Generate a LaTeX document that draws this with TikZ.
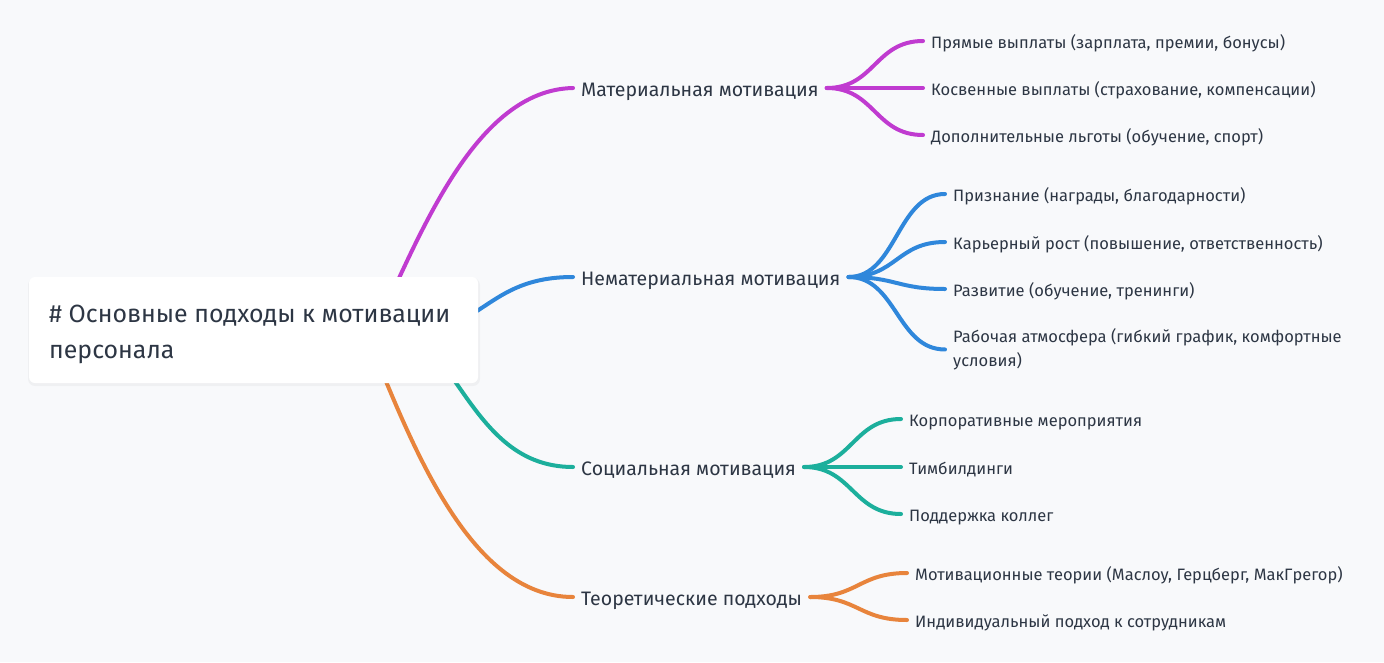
\documentclass[tikz,border=0pt]{standalone}
\usepackage{fontspec}
\setmainfont{Fira Sans}
\definecolor{bg}{HTML}{F8F9FB}
\definecolor{txt}{HTML}{2D3644}
\definecolor{cpur}{HTML}{C03BD0}
\definecolor{cblu}{HTML}{2F87DB}
\definecolor{ctea}{HTML}{1CAF9C}
\definecolor{cora}{HTML}{E8843C}
\tikzset{
  lnk/.style={line width=4pt, line cap=round},
  lone/.style={inner xsep=8pt, inner ysep=0pt, text height=16pt, text depth=0pt, anchor=west, text=txt, font=\fontsize{19.5}{23}\selectfont},
  leafbase/.style={inner xsep=8pt, inner ysep=0pt, text=txt, font=\fontsize{16.5}{24}\selectfont},
  leaf/.style={leafbase, text height=14pt, text depth=0pt, anchor=west},
  roottext/.style={inner sep=0pt, align=left, text=txt, font=\fontsize{24.9}{36}\selectfont, anchor=base west}
}
\begin{document}
\begin{tikzpicture}[x=1pt,y=-1pt]
\useasboundingbox[fill=bg] (0,0) rectangle (1384,662);
% level 1 nodes
\node[lone] (m) at (573,88) {Материальная мотивация};
\node[lone] (n) at (573,277) {Нематериальная мотивация};
\node[lone] (s) at (573,467) {Социальная мотивация};
\node[lone] (t) at (573,597) {Теоретические подходы};
% leaves
\node[leaf] (m1) at (923,41) {Прямые выплаты (зарплата, премии, бонусы)};
\node[leaf] (m2) at (923,88) {Косвенные выплаты (страхование, компенсации)};
\node[leaf] (m3) at (923,135) {Дополнительные льготы (обучение, спорт)};
\node[leaf] (n1) at (945,194) {Признание (награды, благодарности)};
\node[leaf] (n2) at (945,242) {Карьерный рост (повышение, ответственность)};
\node[leaf] (n3) at (945,289) {Развитие (обучение, тренинги)};
\node[leafbase, anchor=base west, align=left] (n4) at (945,366.7) {Рабочая атмосфера (гибкий график, комфортные\\условия)};
\node[leaf] (s1) at (901,419) {Корпоративные мероприятия};
\node[leaf] (s2) at (901,467) {Тимбилдинги};
\node[leaf] (s3) at (901,514) {Поддержка коллег};
\node[leaf] (t1) at (907,573) {Мотивационные теории (Маслоу, Герцберг, МакГрегор)};
\node[leaf] (t2) at (907,620) {Индивидуальный подход к сотрудникам};
% root connectors
\coordinate (r1) at (375,330);
\coordinate (r2) at (397,335);
\coordinate (r3) at (340,299);
\coordinate (r4) at (365,330);
\draw[lnk, cpur] (r1) .. controls (420,235) and (475,90) .. (m.west);
\draw[lnk, cblu] (r2) .. controls (484.5,335) and (484.5,277) .. (n.west);
\draw[lnk, ctea] (r3) .. controls (456,299) and (456,467) .. (s.west);
\draw[lnk, cora] (r4) .. controls (410,440) and (468,597) .. (t.west);
% leaf connectors
\foreach \c/\p/\k in {cpur/m/m1, cpur/m/m2, cpur/m/m3, cblu/n/n1, cblu/n/n2, cblu/n/n3, cblu/n/n4, ctea/s/s1, ctea/s/s2, ctea/s/s3, cora/t/t1, cora/t/t2}
  \draw[lnk, \c] (\p.east) .. controls +(48,0) and +(-48,0) .. (\k.west);
% root box
\fill[black, opacity=0.035, rounded corners=7pt] (28,278) rectangle (480,386);
\fill[white, rounded corners=6pt] (29,277) rectangle (478,383);
\node[roottext] (root) at (49,358.3) {\# Основные подходы к мотивации\\персонала};
\end{tikzpicture}
\end{document}
